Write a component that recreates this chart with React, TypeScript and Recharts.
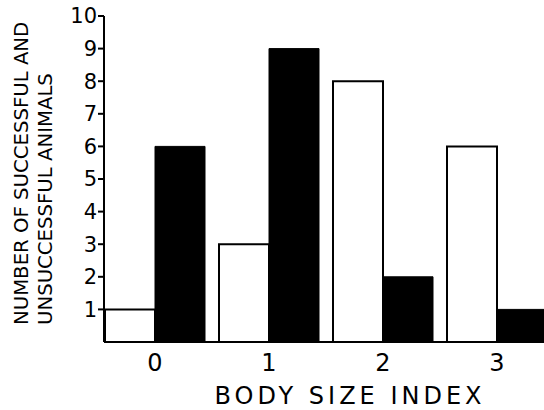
import React from 'react';
import { BarChart, Bar, XAxis, YAxis, Label } from 'recharts';

const sizeIndex = ['0', '1', '2', '3'];
const successful = [1, 3, 8, 6];
const unsuccessful = [6, 9, 2, 1];
const yTicks = [1, 2, 3, 4, 5, 6, 7, 8, 9, 10];

const data = sizeIndex.map((index, i) => ({
  index,
  successful: successful[i],
  unsuccessful: unsuccessful[i],
}));

const font = '"DejaVu Sans", sans-serif';

const YTitle = () => (
  <g fontFamily={font} fontSize={19.7} fill="#000">
    <text x={28} y={325} transform="rotate(-90, 28, 325)" textAnchor="start">
      NUMBER OF SUCCESSFUL AND
    </text>
    <text x={52} y={325} transform="rotate(-90, 52, 325)" textAnchor="start">
      UNSUCCESSFUL ANIMALS
    </text>
  </g>
);

const XTitle = () => (
  <text x={350} y={404} textAnchor="middle" fontFamily={font} fontSize={24} letterSpacing={4} fill="#000">
    BODY SIZE INDEX
  </text>
);

const App: React.FC = () => {
  return (
    <div style={{ position: 'absolute', left: 0, top: 0, width: 544, height: 410, overflow: 'hidden', background: '#fff' }}>
      <BarChart width={560} height={410} data={data} barGap={0} barSize={50}
        margin={{ top: 16, right: 6, left: 0, bottom: 0 }}>
        <XAxis dataKey="index" height={68} padding={{ left: -6, right: 0 }}
          axisLine={{ stroke: '#000', strokeWidth: 2 }} tickLine={false} tickSize={0} tickMargin={12}
          tick={{ fill: '#000', fontSize: 24, fontFamily: font }}>
          <Label content={<XTitle />} />
        </XAxis>
        <YAxis width={104} domain={[0, 10]} ticks={yTicks} interval={0}
          axisLine={{ stroke: '#000', strokeWidth: 2 }} tickLine={{ stroke: '#000', strokeWidth: 2 }}
          tickSize={6} tickMargin={1}
          tick={{ fill: '#000', fontSize: 21, fontFamily: font }}>
          <Label content={<YTitle />} />
        </YAxis>
        <Bar dataKey="successful" fill="#fff" stroke="#000" strokeWidth={2} isAnimationActive={false} />
        <Bar dataKey="unsuccessful" fill="#000" stroke="#000" strokeWidth={1} isAnimationActive={false} />
      </BarChart>
    </div>
  );
};

export default App;
